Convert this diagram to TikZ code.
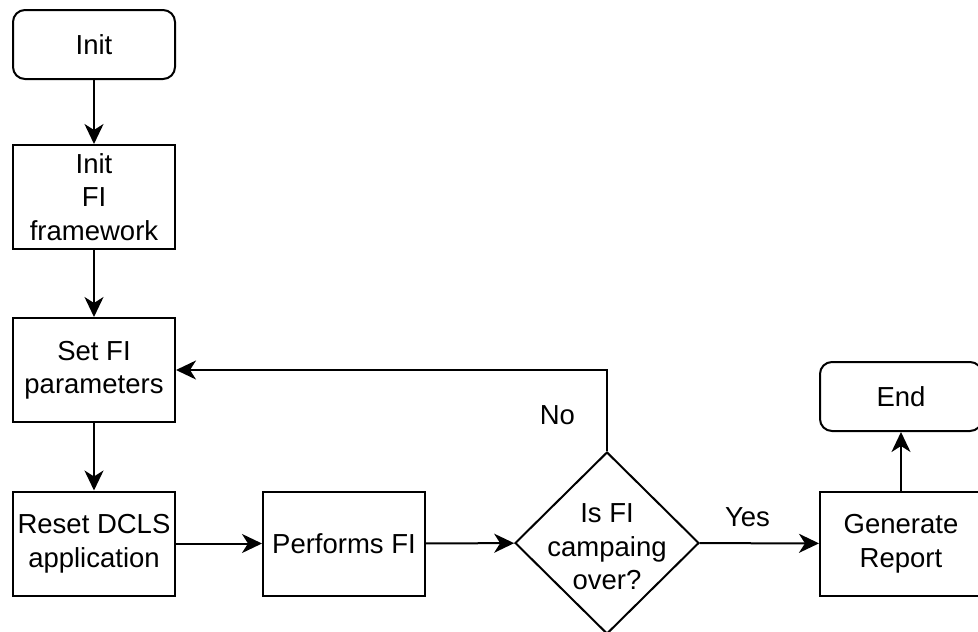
\documentclass[tikz,border=0pt]{standalone}
\usepackage{fontspec}
\setmainfont{Liberation Sans}
\usetikzlibrary{shapes.geometric,arrows.meta}
\begin{document}
\begin{tikzpicture}[x=1pt,y=-1pt,line width=2pt,
  txt/.style={font=\fontsize{27.5}{33.5}\selectfont, align=center},
  box/.style={draw, txt, minimum width=162pt, minimum height=104pt, inner sep=0pt},
  term/.style={box, rounded corners=12pt, minimum height=69pt},
  dec/.style={draw, diamond, minimum width=184pt, minimum height=182pt, inner sep=0pt},
  flow/.style={-{Stealth[length=20pt,width=19pt,inset=6pt]}},
  lbl/.style={txt, inner sep=0pt}]
\useasboundingbox (0,0) rectangle (978,632);

\node[term] (init)  at (94,44.5)  {Init};
\node[box]  (fw)    at (94,197)   {Init\\FI\\framework};
\node[box]  (set)   at (94,370)   {Set FI\\parameters};
\node[box]  (reset) at (94,543.5) {Reset DCLS\\application};
\node[box]  (perf)  at (344,543.5) {Performs FI};
\node[dec, label={[lbl, yshift=-4pt]center:Is FI\\campaing\\over?}] (q) at (607,543) {};
\node[box]  (rep)   at (901,543.5) {Generate\\Report};
\node[term] (end)   at (901,396.5) {End};

\draw[flow] (init) -- (fw);
\draw[flow] (fw) -- (set);
\draw[flow] (set) -- (reset);
\draw[flow] (reset) -- (perf);
\draw[flow] (perf) -- (q);
\draw[flow] (q) -- node[lbl, pos=0.4, yshift=26pt] {Yes} (rep);
\draw[flow] (rep) -- (end);
\draw[flow] (q.north) |- node[lbl, pos=0.22, left=31pt] {No} (set);
\end{tikzpicture}
\end{document}
